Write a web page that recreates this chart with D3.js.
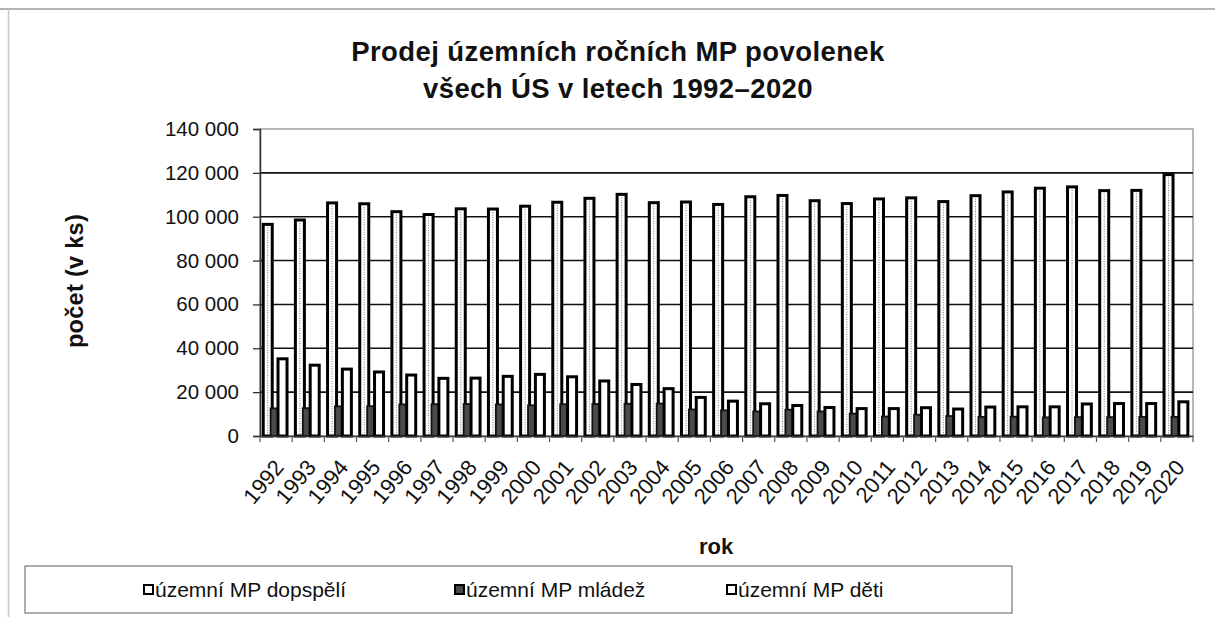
<!DOCTYPE html>
<html>
<head>
<meta charset="utf-8">
<script src="https://cdn.jsdelivr.net/npm/d3@7"></script>
<style>
  html, body { margin: 0; padding: 0; background: #fff; }
  svg { display: block; font-family: "Liberation Sans", Arial, sans-serif; }
</style>
</head>
<body>
<svg id="chart" width="1215" height="617"></svg>
<script>
// ---- data ----
const years = ["1992","1993","1994","1995","1996","1997","1998","1999","2000","2001",
  "2002","2003","2004","2005","2006","2007","2008","2009","2010","2011",
  "2012","2013","2014","2015","2016","2017","2018","2019","2020"];
const dospeli = [96500, 98500, 106300, 105900, 102300, 101000, 103600, 103500, 104800, 106600,
  108400, 110200, 106400, 106700, 105600, 109100, 109700, 107300, 106000, 108100,
  108600, 106900, 109600, 111300, 113000, 113600, 111900, 112000, 119200];
const mladez = [12600, 12700, 13500, 13600, 14400, 14500, 14600, 14400, 14000, 14500,
  14600, 14700, 14800, 12100, 11700, 11200, 12000, 11200, 10200, 8900,
  9700, 9100, 8700, 8800, 8500, 8600, 8600, 8700, 8700];
const deti = [35200, 32300, 30500, 29200, 27800, 26300, 26400, 27200, 28100, 27000,
  25100, 23500, 21600, 17600, 15900, 14700, 13900, 13000, 12500, 12500,
  12900, 12300, 13200, 13300, 13300, 14600, 14800, 14800, 15600];
const seriesNames = ["územní MP dopspělí", "územní MP mládež", "územní MP děti"];
const yTicks = [0, 20000, 40000, 60000, 80000, 100000, 120000, 140000];
const titleLines = ["Prodej územních ročních MP povolenek", "všech ÚS v letech 1992–2020"];
const yTitle = "počet (v ks)";
const xTitle = "rok";

// ---- layout ----
const svg = d3.select("#chart");
const L = 260, R = 1193, T = 129, B = 436;

const x = d3.scaleBand().domain(years).range([L, R]).padding(0);
const y = d3.scaleLinear().domain([0, 140000]).range([B, T]);
const bw = x.bandwidth();
const sub = d3.scaleLinear().domain([0, 2]).range([bw * 0.10, bw * 0.56]);
const barW = bw * 0.28;

// outer frame lines
svg.append("line").attr("x1", 0).attr("x2", 1215).attr("y1", 9).attr("y2", 9)
  .attr("stroke", "#9a9a9a").attr("stroke-width", 1.5);
svg.append("line").attr("x1", 8.5).attr("x2", 8.5).attr("y1", 9).attr("y2", 617)
  .attr("stroke", "#c8c8c8").attr("stroke-width", 1.5);

// title
svg.append("g").selectAll("text").data(titleLines).join("text")
  .attr("x", 618).attr("y", (d, i) => 61 + i * 37)
  .attr("text-anchor", "middle").attr("font-weight", "bold").attr("font-size", 27.5)
  .attr("letter-spacing", 0.4)
  .attr("fill", "#111").text(d => d);

// plot border (gray)
svg.append("rect").attr("x", L).attr("y", T).attr("width", R - L).attr("height", B - T)
  .attr("fill", "#fff").attr("stroke", "#888").attr("stroke-width", 1.2);

// gridlines
svg.append("g").selectAll("line").data(yTicks.filter(d => d > 0 && d < 140000)).join("line")
  .attr("x1", L).attr("x2", R).attr("y1", d => y(d)).attr("y2", d => y(d))
  .attr("stroke", "#111").attr("stroke-width", 1.6);

// y axis
const yAxis = d3.axisLeft(y).tickValues(yTicks).tickSize(7).tickPadding(14)
  .tickFormat(d => d3.format(",")(d).replace(/,/g, " "));
const gy = svg.append("g").attr("transform", `translate(${L},0)`).call(yAxis);
gy.select(".domain").attr("stroke", "#333").attr("stroke-width", 1.5);
gy.selectAll(".tick line").attr("stroke", "#333").attr("stroke-width", 1.3);
gy.selectAll(".tick text").attr("font-size", 20.5).attr("fill", "#111")
  .attr("font-family", "Liberation Sans, Arial, sans-serif");

// bars
const gBars = svg.append("g");
function drawSeries(vals, idx, fill, stroke, sw) {
  gBars.append("g").selectAll("rect").data(vals).join("rect")
    .attr("x", (d, i) => x(years[i]) + sub(idx))
    .attr("y", d => y(d))
    .attr("width", barW)
    .attr("height", d => B - y(d))
    .attr("fill", fill).attr("stroke", stroke).attr("stroke-width", sw);
}
drawSeries(dospeli, 0, "#fff", "#000", 3);
// dotted inner line of the adult bars
gBars.append("g").selectAll("line").data(dospeli).join("line")
  .attr("x1", (d, i) => x(years[i]) + sub(0) + barW / 2)
  .attr("x2", (d, i) => x(years[i]) + sub(0) + barW / 2)
  .attr("y1", d => y(d) + 3).attr("y2", B - 1)
  .attr("stroke", "#777").attr("stroke-width", 1).attr("stroke-dasharray", "1,1.5");
drawSeries(mladez, 1, "#4a4a4a", "#111", 1.8);
drawSeries(deti, 2, "#fff", "#000", 3);

// x axis
const xAxis = d3.axisBottom(x).tickSize(0).tickFormat("");
const gx = svg.append("g").attr("transform", `translate(0,${B})`).call(xAxis);
gx.select(".domain").attr("stroke", "#333").attr("stroke-width", 1.5);
// tick marks between categories
svg.append("g").selectAll("line").data(years.concat(["end"])).join("line")
  .attr("x1", (d, i) => L + i * bw).attr("x2", (d, i) => L + i * bw)
  .attr("y1", B).attr("y2", B + 6).attr("stroke", "#555").attr("stroke-width", 1.2);

svg.append("g").selectAll("text").data(years).join("text")
  .attr("transform", d => `translate(${x(d) + bw / 2 + 3},${B + 27}) rotate(-50)`)
  .attr("text-anchor", "end").attr("dy", "0.35em")
  .attr("font-size", 22).attr("fill", "#111").text(d => d);

// axis titles
svg.append("text").attr("transform", "translate(83,281) rotate(-90)")
  .attr("text-anchor", "middle").attr("font-weight", "bold").attr("font-size", 23.5)
  .attr("letter-spacing", 0.3)
  .attr("fill", "#111").text(yTitle);
svg.append("text").attr("x", 716).attr("y", 554)
  .attr("text-anchor", "middle").attr("font-weight", "bold").attr("font-size", 22)
  .attr("fill", "#111").text(xTitle);

// legend
svg.append("rect").attr("x", 25).attr("y", 566).attr("width", 987).attr("height", 47)
  .attr("fill", "#fff").attr("stroke", "#777").attr("stroke-width", 1.2);
const legX = [144, 455, 727];
const legFill = ["#fff", "#4a4a4a", "#fff"];
const lg = svg.append("g").selectAll("g").data(seriesNames).join("g")
  .attr("transform", (d, i) => `translate(${legX[i]},590)`);
lg.append("rect").attr("x", 0).attr("y", -5).attr("width", 9).attr("height", 9)
  .attr("fill", (d, i) => legFill[i]).attr("stroke", "#000").attr("stroke-width", 2);
lg.append("text").attr("x", 11).attr("y", 0).attr("dy", "0.35em")
  .attr("font-size", 21).attr("fill", "#111").text(d => d);
</script>
</body>
</html>
